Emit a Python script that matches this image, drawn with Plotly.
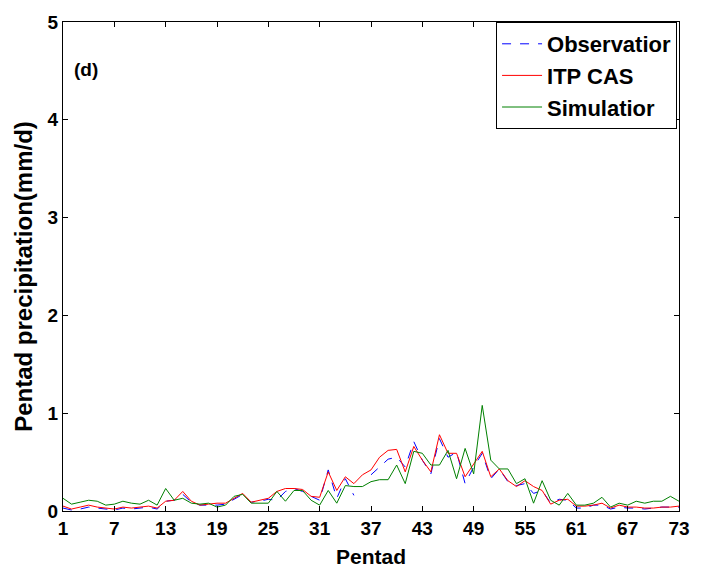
import plotly.graph_objects as go

pentad = list(range(1, 74))

observation = [0.03, 0.01, 0.02, 0.04, 0.03, 0.02, 0.01, 0.03, 0.02, 0.03,
               0.04, 0.02, 0.10, 0.11, 0.17, 0.09, 0.06, 0.06, 0.06, 0.07,
               0.12, 0.17, 0.09, 0.10, 0.12, 0.11, 0.20, 0.23, 0.20, 0.15,
               0.11, 0.42, 0.13, 0.33, 0.16, None, 0.37, 0.45, 0.53, 0.55,
               0.45, 0.71, 0.52, 0.38, 0.74, 0.55, 0.60, 0.28, 0.45, 0.59,
               0.33, 0.43, 0.30, 0.26, 0.28, 0.18, 0.21, 0.08, 0.12, 0.11,
               0.03, 0.03, 0.06, 0.06, 0.02, 0.04, 0.03, 0.03, 0.02, 0.03,
               0.04, 0.04, 0.04]

itp_cas = [0.05, 0.02, 0.04, 0.06, 0.04, 0.03, 0.02, 0.04, 0.03, 0.04,
           0.05, 0.03, 0.10, 0.11, 0.20, 0.10, 0.06, 0.07, 0.08, 0.08,
           0.13, 0.18, 0.09, 0.11, 0.13, 0.20, 0.23, 0.23, 0.22, 0.15,
           0.14, 0.40, 0.21, 0.35, 0.28, 0.37, 0.42, 0.55, 0.62, 0.63,
           0.40, 0.66, 0.52, 0.40, 0.78, 0.59, 0.59, 0.35, 0.48, 0.61,
           0.35, 0.43, 0.31, 0.25, 0.31, 0.25, 0.21, 0.07, 0.11, 0.12,
           0.05, 0.05, 0.06, 0.08, 0.03, 0.06, 0.04, 0.04, 0.03, 0.03,
           0.04, 0.04, 0.05]

simulation = [0.13, 0.07, 0.09, 0.11, 0.10, 0.06, 0.07, 0.10, 0.08, 0.07,
              0.11, 0.06, 0.23, 0.11, 0.13, 0.08, 0.07, 0.08, 0.04, 0.06,
              0.15, 0.17, 0.08, 0.08, 0.08, 0.20, 0.10, 0.21, 0.21, 0.11,
              0.06, 0.21, 0.08, 0.26, 0.25, 0.25, 0.30, 0.32, 0.32, 0.47,
              0.28, 0.61, 0.59, 0.47, 0.47, 0.62, 0.33, 0.64, 0.38, 1.08,
              0.52, 0.43, 0.43, 0.28, 0.33, 0.08, 0.31, 0.11, 0.06, 0.18,
              0.06, 0.06, 0.08, 0.14, 0.04, 0.08, 0.06, 0.10, 0.08, 0.10,
              0.10, 0.15, 0.10]

x_ticks = [1, 7, 13, 19, 25, 31, 37, 43, 49, 55, 61, 67, 73]
y_ticks = [0, 1, 2, 3, 4, 5]
names = ["Observatior", "ITP CAS", "Simulatior"]
x_title = "Pentad"
y_title = "Pentad precipitation(mm/d)"
panel_label = "(d)"

FONT = "Arial, Liberation Sans, Helvetica, sans-serif"

fig = go.Figure()
fig.add_trace(go.Scatter(x=pentad, y=observation, mode="lines", name=names[0],
                         line=dict(color="#0000FF", width=1, dash="dash"),
                         connectgaps=False))
fig.add_trace(go.Scatter(x=pentad, y=itp_cas, mode="lines", name=names[1],
                         line=dict(color="#FF0000", width=1)))
fig.add_trace(go.Scatter(x=pentad, y=simulation, mode="lines", name=names[2],
                         line=dict(color="#008000", width=1)))

axis_common = dict(showline=True, linecolor="black", linewidth=1, mirror="ticks",
                   ticks="inside", ticklen=5, tickcolor="black", showgrid=False,
                   zeroline=False,
                   tickfont=dict(family=FONT, size=19, color="black", weight="bold"))

fig.update_xaxes(range=[1, 73], tickvals=x_ticks, ticktext=[str(v) for v in x_ticks],
                 **axis_common)
fig.update_yaxes(range=[0, 5], tickvals=y_ticks, ticktext=[str(v) for v in y_ticks],
                 **axis_common)

fig.add_annotation(text=x_title, xref="paper", yref="paper", x=0.5, y=-0.093,
                   xanchor="center", yanchor="middle", showarrow=False,
                   font=dict(family=FONT, size=21, color="black", weight="bold"))
fig.add_annotation(text=y_title, xref="paper", yref="paper", x=-0.064, y=0.48,
                   xanchor="center", yanchor="middle", showarrow=False, textangle=-90,
                   font=dict(family=FONT, size=24, color="black", weight="bold"))
fig.add_annotation(text=panel_label, xref="paper", yref="paper", x=0.015, y=0.902,
                   xanchor="left", yanchor="middle", showarrow=False,
                   font=dict(family=FONT, size=19, color="black", weight="bold"))

fig.update_layout(
    width=702, height=567,
    margin=dict(l=63, r=14, t=19, b=56),
    paper_bgcolor="white", plot_bgcolor="white",
    showlegend=True,
    legend=dict(x=0.703, y=1.0, xanchor="left", yanchor="top",
                bgcolor="white", bordercolor="black", borderwidth=1,
                font=dict(family=FONT, size=22, color="black", weight="bold"),
                itemwidth=40, tracegroupgap=0),
)

fig.write_html("out.html")
